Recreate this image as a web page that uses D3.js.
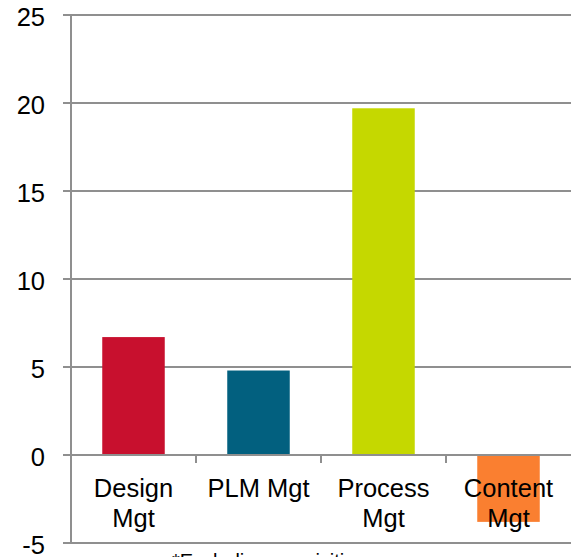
<!DOCTYPE html>
<html>
<head>
<meta charset="utf-8">
<script src="https://cdn.jsdelivr.net/npm/d3@7"></script>
<style>
  html, body { margin: 0; padding: 0; background: #fff; overflow: hidden; }
  svg { display: block; font-family: "Liberation Sans", Arial, sans-serif; }
</style>
</head>
<body>
<svg id="chart" width="571" height="557"></svg>
<script>
// Growth by segment (%)
const categories = ["Design Mgt", "PLM Mgt", "Process Mgt", "Content Mgt"];
const labelLines = [["Design", "Mgt"], ["PLM Mgt"], ["Process", "Mgt"], ["Content", "Mgt"]];
const values = [6.7, 4.8, 19.7, -3.8];
const colors = ["#C8102E", "#02607F", "#C5D800", "#FA7F30"];
const yTicks = [-5, 0, 5, 10, 15, 20, 25];
const footnote = "*Excluding acquisitions";

const svg = d3.select("#chart");
const plotLeft = 71, plotRight = 571, plotTop = 15, plotBottom = 543;
const gridColor = "#8f8f8f";

const y = d3.scaleLinear().domain([-5, 25]).range([plotBottom, plotTop]);
const x = d3.scaleBand().domain(categories).range([plotLeft, plotRight])
  .paddingInner(0.5).paddingOuter(0.25);

// horizontal gridlines with short ticks on the left
svg.append("g").selectAll("line").data(yTicks).join("line")
  .attr("x1", plotLeft - 8).attr("x2", plotRight)
  .attr("y1", d => y(d)).attr("y2", d => y(d))
  .attr("stroke", gridColor).attr("stroke-width", 2);

// vertical axis line
svg.append("line")
  .attr("x1", plotLeft).attr("x2", plotLeft)
  .attr("y1", y(25)).attr("y2", y(-5))
  .attr("stroke", gridColor).attr("stroke-width", 2);

// tick labels
svg.append("g").selectAll("text").data(yTicks).join("text")
  .attr("x", 45).attr("y", d => y(d) + 10.5)
  .attr("text-anchor", "end")
  .attr("font-size", 25.5).attr("fill", "#000")
  .text(d => d);

// bars
svg.append("g").selectAll("rect").data(values).join("rect")
  .attr("x", (d, i) => x(categories[i]))
  .attr("width", x.bandwidth())
  .attr("y", d => y(Math.max(0, d)))
  .attr("height", d => Math.abs(y(d) - y(0)))
  .attr("fill", (d, i) => colors[i]);

// zero line with category separators
svg.append("line")
  .attr("x1", plotLeft - 8).attr("x2", plotRight)
  .attr("y1", y(0)).attr("y2", y(0))
  .attr("stroke", gridColor).attr("stroke-width", 2);
const step = x.step();
const seps = d3.range(1, categories.length).map(i => plotLeft + i * step);
svg.append("g").selectAll("line").data(seps).join("line")
  .attr("x1", d => d).attr("x2", d => d)
  .attr("y1", y(0)).attr("y2", y(0) + 8)
  .attr("stroke", gridColor).attr("stroke-width", 2);

// category labels
const lab = svg.append("g");
categories.forEach((c, i) => {
  const cx = x(c) + x.bandwidth() / 2;
  const t = lab.append("text")
    .attr("text-anchor", "middle")
    .attr("font-size", 25.5).attr("fill", "#000");
  labelLines[i].forEach((line, j) => {
    t.append("tspan").attr("x", cx).attr("y", 497 + j * 30).text(line);
  });
});

// footnote, running past the bottom edge
svg.append("text")
  .attr("x", 172).attr("y", 568)
  .attr("font-size", 20).attr("fill", "#000")
  .text(footnote);
</script>
</body>
</html>
